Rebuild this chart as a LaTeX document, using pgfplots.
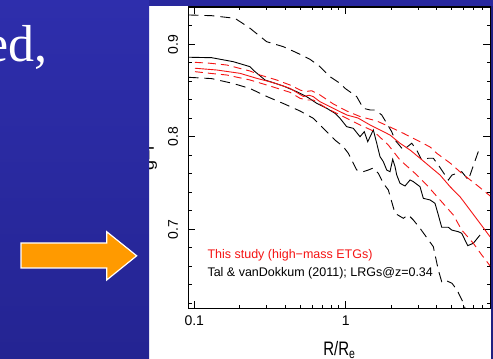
\documentclass[border=0pt]{standalone}
\usepackage{fontspec}
\setmainfont{Liberation Sans}
\newfontfamily\slidefont{Liberation Serif}
\usepackage{graphicx}
\usepackage{pgfplots}
\pgfplotsset{compat=1.18}
\definecolor{slideblueA}{RGB}{46,46,172}
\definecolor{slideblueB}{RGB}{36,36,146}
\definecolor{slidetop}{RGB}{40,40,158}
\definecolor{slideright}{RGB}{32,32,128}
\definecolor{arroworange}{RGB}{255,154,0}
\definecolor{plotred}{RGB}{245,20,20}
\begin{document}
\begin{tikzpicture}[x=1pt,y=1pt]
\fill[white] (0,0) rectangle (493,359);
\begin{axis}[
  at={(188.5pt,50.7pt)}, anchor=south west,
  scale only axis, width=301.7pt, height=301.3pt,
  xmode=log, xmin=0.0916, xmax=9, ymin=0.6146, ymax=0.9403,
  xtick={0.1,1}, xticklabels={0.1,1},
  minor xtick={0.2,0.3,0.4,0.5,0.6,0.7,0.8,0.9,2,3,4,5,6,7,8},
  ytick={0.7,0.8,0.9}, yticklabels={0.7,0.8,0.9},
  minor ytick={0.62,0.64,0.66,0.68,0.72,0.74,0.76,0.78,0.82,0.84,0.86,0.88,0.92},
  tick align=inside,
  major tick length=7pt, minor tick length=3.5pt,
  tick style={black, line width=0.9pt},
  axis line style={line width=1.1pt},
  tick label style={font=\fontsize{14}{16}\selectfont},
  xticklabel style={yshift=-3.7pt},
  yticklabel style={xshift=-7pt, rotate=90, anchor=south},
  xlabel={\scalebox{1}[1.3]{R/R\textsubscript{e}}},
  xlabel style={at={(axis description cs:0.5,-0.1583)}, anchor=base, font=\fontsize{15}{17}\selectfont},
  ylabel={\scalebox{1.2}[1]{g−r}},
  ylabel style={at={(axis description cs:-0.1144,0.5)}, anchor=base, font=\fontsize{15}{17}\selectfont},
]
% Tal & van Dokkum: upper dashed
\addplot[black, line width=0.9pt, dash pattern=on 10pt off 6pt] coordinates {
(0.0916,0.9317) (0.1303,0.9309) (0.1857,0.9281) (0.2334,0.9173) (0.3008,0.9028)
(0.3873,0.8974) (0.4742,0.8909) (0.5809,0.8838) (0.6765,0.8758) (0.7873,0.8650)
(0.917,0.8578) (0.9894,0.8524) (1.182,0.8434) (1.307,0.8308) (1.447,0.8290)
(1.561,0.8290) (1.729,0.8236) (1.866,0.8146) (2.013,0.8055) (2.117,0.7965)
(2.401,0.7857) (2.729,0.7930) (2.944,0.7857) (3.177,0.7749) (3.512,0.7768)
(3.790,0.7768) (4.089,0.7695) (4.762,0.7533) (5.036,0.7587) (5.838,0.7623)
(6.454,0.7533) (7.709,0.7893)
};
% Tal & van Dokkum: lower dashed
\addplot[black, line width=0.9pt, dash pattern=on 10pt off 6pt] coordinates {
(0.0916,0.8643) (0.1303,0.8629) (0.1809,0.8576) (0.2334,0.8522) (0.3008,0.8436)
(0.3873,0.8360) (0.4990,0.8279) (0.6109,0.8200) (0.7674,0.8038) (0.849,0.7965)
(0.964,0.7893) (1.040,0.7822) (1.122,0.7714) (1.182,0.7641) (1.307,0.7623)
(1.411,0.7641) (1.522,0.7663) (1.642,0.7605) (1.772,0.7497) (1.912,0.7425)
(2.117,0.7173) (2.401,0.7119) (2.592,0.7155) (2.796,0.7101) (3.096,0.7011)
(3.790,0.6812) (4.089,0.6560) (4.305,0.6434) (4.529,0.6452) (5.036,0.6416)
(5.435,0.6344) (5.984,0.6203) (6.138,0.6149)
};
% Tal & van Dokkum: mean
\addplot[black, line width=0.9pt] coordinates {
(0.0916,0.8860) (0.1303,0.8855) (0.1809,0.8812) (0.2334,0.8758) (0.2518,0.8704)
(0.2931,0.8614) (0.3873,0.8549) (0.4742,0.8488) (0.5521,0.8434) (0.6435,0.8362)
(0.7495,0.8308) (0.849,0.8254) (0.917,0.8200) (1.015,0.8109) (1.122,0.8092)
(1.243,0.8001) (1.327,0.8055) (1.398,0.7947) (1.522,0.8074) (1.603,0.7930)
(1.685,0.7785) (1.772,0.7731) (1.866,0.7641) (1.962,0.7623) (2.044,0.7757)
(2.117,0.7677) (2.173,0.7587) (2.284,0.7497) (2.465,0.7468) (2.660,0.7533)
(2.796,0.7515) (3.096,0.7461) (3.255,0.7335) (3.606,0.7317) (3.889,0.7281)
(4.089,0.7155) (4.305,0.7022) (4.762,0.7022) (5.013,0.6992) (5.543,0.6974)
(5.838,0.6957) (6.395,0.6823) (6.964,0.6849) (7.709,0.6938)
};
% This study: upper dashed
\addplot[plotred, line width=0.9pt, dash pattern=on 8pt off 5pt] coordinates {
(0.1011,0.8805) (0.1270,0.8795) (0.1637,0.8776) (0.2334,0.8711) (0.2716,0.8668)
(0.3500,0.8614) (0.4286,0.8560) (0.4990,0.8506) (0.5386,0.8488) (0.5963,0.8498)
(0.6765,0.8452) (0.8280,0.8355) (1.015,0.8279) (1.243,0.8219) (1.603,0.8171)
(1.962,0.8106) (2.401,0.8038) (2.944,0.7965) (3.606,0.7890) (3.990,0.7822)
(4.886,0.7717) (5.838,0.7605) (7.332,0.7479) (9,0.7360)
};
% This study: lower dashed
\addplot[plotred, line width=0.9pt, dash pattern=on 8pt off 5pt] coordinates {
(0.1011,0.8704) (0.1270,0.8686) (0.1637,0.8668) (0.2334,0.8614) (0.3162,0.8549)
(0.4286,0.8481) (0.4990,0.8416) (0.5521,0.8398) (0.6109,0.8398) (0.7495,0.8308)
(1.015,0.8200) (1.243,0.8128) (1.522,0.8063) (1.912,0.7911) (2.284,0.7749)
(2.869,0.7605) (3.428,0.7479) (4.197,0.7317) (5.136,0.7155) (5.838,0.6992)
(6.964,0.6849) (7.83,0.6733) (9,0.6603)
};
% This study: mean
\addplot[plotred, line width=0.9pt] coordinates {
(0.1011,0.8741) (0.1406,0.8722) (0.2004,0.8686) (0.2584,0.8632) (0.3324,0.8585)
(0.4286,0.8524) (0.5248,0.8436) (0.5748,0.8449) (0.6109,0.8434) (0.6765,0.8379)
(0.8280,0.8308) (1.015,0.8236) (1.205,0.8203) (1.447,0.8128) (1.685,0.8074)
(1.962,0.8019) (2.284,0.7930) (2.660,0.7857) (3.096,0.7768) (3.606,0.7677)
(4.197,0.7587) (4.886,0.7461) (5.689,0.7352) (6.622,0.7209) (7.709,0.7065)
(9,0.6917)
};
\node[anchor=base west, inner sep=0pt, text=plotred, font=\fontsize{12.5}{14}\selectfont]
  at (rel axis cs:0.0624,0.1659) {This study (high−mass ETGs)};
\node[anchor=base west, inner sep=0pt, text=black, font=\fontsize{12.5}{14}\selectfont]
  at (rel axis cs:0.0624,0.1049) {Tal \& vanDokkum (2011); LRGs@z=0.34};
\end{axis}
% slide background around the figure panel
\shade[top color=slideblueA, bottom color=slideblueB] (0,0) rectangle (149,359);
\fill[slidetop] (149,352.5) rectangle (493,359);
\fill[slideright] (490.8,0) rectangle (493,352.5);
\node[anchor=base east, inner sep=0pt, text=white, font=\slidefont\fontsize{52}{56}\selectfont] at (48,297.3) {ed,};
\filldraw[fill=arroworange, draw=white, line width=1.2pt]
  (21,91) -- (106.7,91) -- (106.7,79) -- (136.7,103.2) -- (106.7,127.3) -- (106.7,116) -- (21,116) -- cycle;
\pgfresetboundingbox
\path[use as bounding box] (0,0) rectangle (493,359);
\end{tikzpicture}
\end{document}
